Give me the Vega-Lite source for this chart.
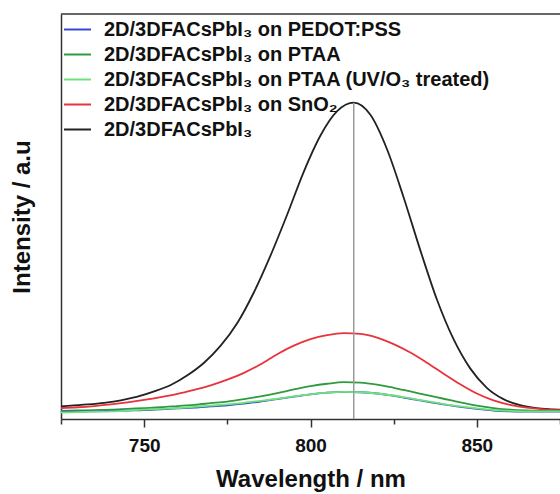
{
  "$schema": "https://vega.github.io/schema/vega-lite/v6.json",
  "width": 499,
  "height": 405,
  "autosize": {"type": "none"},
  "padding": {"left": 61, "top": 14, "right": 0, "bottom": 75},
  "background": "white",
  "config": {
    "font": "Liberation Sans",
    "view": {"stroke": null},
    "axis": {"labelFont": "Liberation Sans", "titleFont": "Liberation Sans", "domainColor": "#333", "tickColor": "#333", "labelColor": "#111", "titleColor": "#111", "domainWidth": 1.5, "tickWidth": 1.5, "grid": false}
  },
  "layer": [
    {
      "data": {"values": [
        {"wl": 725, "I": 0.031, "s": "2D/3DFACsPbI₃"},
        {"wl": 728, "I": 0.033, "s": "2D/3DFACsPbI₃"},
        {"wl": 733, "I": 0.036, "s": "2D/3DFACsPbI₃"},
        {"wl": 738, "I": 0.040, "s": "2D/3DFACsPbI₃"},
        {"wl": 743, "I": 0.046, "s": "2D/3DFACsPbI₃"},
        {"wl": 748, "I": 0.055, "s": "2D/3DFACsPbI₃"},
        {"wl": 753, "I": 0.068, "s": "2D/3DFACsPbI₃"},
        {"wl": 758, "I": 0.084, "s": "2D/3DFACsPbI₃"},
        {"wl": 763, "I": 0.108, "s": "2D/3DFACsPbI₃"},
        {"wl": 768, "I": 0.139, "s": "2D/3DFACsPbI₃"},
        {"wl": 773, "I": 0.181, "s": "2D/3DFACsPbI₃"},
        {"wl": 778, "I": 0.237, "s": "2D/3DFACsPbI₃"},
        {"wl": 783, "I": 0.313, "s": "2D/3DFACsPbI₃"},
        {"wl": 788, "I": 0.404, "s": "2D/3DFACsPbI₃"},
        {"wl": 793, "I": 0.505, "s": "2D/3DFACsPbI₃"},
        {"wl": 798, "I": 0.611, "s": "2D/3DFACsPbI₃"},
        {"wl": 803, "I": 0.700, "s": "2D/3DFACsPbI₃"},
        {"wl": 808, "I": 0.760, "s": "2D/3DFACsPbI₃"},
        {"wl": 813, "I": 0.781, "s": "2D/3DFACsPbI₃"},
        {"wl": 818, "I": 0.751, "s": "2D/3DFACsPbI₃"},
        {"wl": 823, "I": 0.666, "s": "2D/3DFACsPbI₃"},
        {"wl": 828, "I": 0.547, "s": "2D/3DFACsPbI₃"},
        {"wl": 833, "I": 0.417, "s": "2D/3DFACsPbI₃"},
        {"wl": 838, "I": 0.295, "s": "2D/3DFACsPbI₃"},
        {"wl": 843, "I": 0.197, "s": "2D/3DFACsPbI₃"},
        {"wl": 848, "I": 0.125, "s": "2D/3DFACsPbI₃"},
        {"wl": 853, "I": 0.077, "s": "2D/3DFACsPbI₃"},
        {"wl": 858, "I": 0.049, "s": "2D/3DFACsPbI₃"},
        {"wl": 863, "I": 0.034, "s": "2D/3DFACsPbI₃"},
        {"wl": 868, "I": 0.027, "s": "2D/3DFACsPbI₃"},
        {"wl": 873, "I": 0.024, "s": "2D/3DFACsPbI₃"},
        {"wl": 875, "I": 0.023, "s": "2D/3DFACsPbI₃"},

        {"wl": 725, "I": 0.027, "s": "2D/3DFACsPbI₃ on SnO₂"},
        {"wl": 730, "I": 0.029, "s": "2D/3DFACsPbI₃ on SnO₂"},
        {"wl": 735, "I": 0.032, "s": "2D/3DFACsPbI₃ on SnO₂"},
        {"wl": 740, "I": 0.036, "s": "2D/3DFACsPbI₃ on SnO₂"},
        {"wl": 745, "I": 0.041, "s": "2D/3DFACsPbI₃ on SnO₂"},
        {"wl": 750, "I": 0.047, "s": "2D/3DFACsPbI₃ on SnO₂"},
        {"wl": 755, "I": 0.054, "s": "2D/3DFACsPbI₃ on SnO₂"},
        {"wl": 760, "I": 0.062, "s": "2D/3DFACsPbI₃ on SnO₂"},
        {"wl": 765, "I": 0.072, "s": "2D/3DFACsPbI₃ on SnO₂"},
        {"wl": 770, "I": 0.083, "s": "2D/3DFACsPbI₃ on SnO₂"},
        {"wl": 775, "I": 0.097, "s": "2D/3DFACsPbI₃ on SnO₂"},
        {"wl": 780, "I": 0.114, "s": "2D/3DFACsPbI₃ on SnO₂"},
        {"wl": 785, "I": 0.135, "s": "2D/3DFACsPbI₃ on SnO₂"},
        {"wl": 790, "I": 0.160, "s": "2D/3DFACsPbI₃ on SnO₂"},
        {"wl": 795, "I": 0.181, "s": "2D/3DFACsPbI₃ on SnO₂"},
        {"wl": 800, "I": 0.197, "s": "2D/3DFACsPbI₃ on SnO₂"},
        {"wl": 805, "I": 0.207, "s": "2D/3DFACsPbI₃ on SnO₂"},
        {"wl": 810, "I": 0.212, "s": "2D/3DFACsPbI₃ on SnO₂"},
        {"wl": 815, "I": 0.210, "s": "2D/3DFACsPbI₃ on SnO₂"},
        {"wl": 820, "I": 0.201, "s": "2D/3DFACsPbI₃ on SnO₂"},
        {"wl": 825, "I": 0.185, "s": "2D/3DFACsPbI₃ on SnO₂"},
        {"wl": 830, "I": 0.164, "s": "2D/3DFACsPbI₃ on SnO₂"},
        {"wl": 835, "I": 0.139, "s": "2D/3DFACsPbI₃ on SnO₂"},
        {"wl": 840, "I": 0.112, "s": "2D/3DFACsPbI₃ on SnO₂"},
        {"wl": 845, "I": 0.086, "s": "2D/3DFACsPbI₃ on SnO₂"},
        {"wl": 850, "I": 0.063, "s": "2D/3DFACsPbI₃ on SnO₂"},
        {"wl": 855, "I": 0.046, "s": "2D/3DFACsPbI₃ on SnO₂"},
        {"wl": 860, "I": 0.035, "s": "2D/3DFACsPbI₃ on SnO₂"},
        {"wl": 865, "I": 0.028, "s": "2D/3DFACsPbI₃ on SnO₂"},
        {"wl": 870, "I": 0.024, "s": "2D/3DFACsPbI₃ on SnO₂"},
        {"wl": 875, "I": 0.022, "s": "2D/3DFACsPbI₃ on SnO₂"},

        {"wl": 725, "I": 0.020, "s": "2D/3DFACsPbI₃ on PTAA"},
        {"wl": 730, "I": 0.021, "s": "2D/3DFACsPbI₃ on PTAA"},
        {"wl": 735, "I": 0.022, "s": "2D/3DFACsPbI₃ on PTAA"},
        {"wl": 740, "I": 0.023, "s": "2D/3DFACsPbI₃ on PTAA"},
        {"wl": 745, "I": 0.025, "s": "2D/3DFACsPbI₃ on PTAA"},
        {"wl": 750, "I": 0.027, "s": "2D/3DFACsPbI₃ on PTAA"},
        {"wl": 755, "I": 0.029, "s": "2D/3DFACsPbI₃ on PTAA"},
        {"wl": 760, "I": 0.032, "s": "2D/3DFACsPbI₃ on PTAA"},
        {"wl": 765, "I": 0.035, "s": "2D/3DFACsPbI₃ on PTAA"},
        {"wl": 770, "I": 0.039, "s": "2D/3DFACsPbI₃ on PTAA"},
        {"wl": 775, "I": 0.043, "s": "2D/3DFACsPbI₃ on PTAA"},
        {"wl": 780, "I": 0.049, "s": "2D/3DFACsPbI₃ on PTAA"},
        {"wl": 785, "I": 0.056, "s": "2D/3DFACsPbI₃ on PTAA"},
        {"wl": 790, "I": 0.064, "s": "2D/3DFACsPbI₃ on PTAA"},
        {"wl": 795, "I": 0.073, "s": "2D/3DFACsPbI₃ on PTAA"},
        {"wl": 800, "I": 0.081, "s": "2D/3DFACsPbI₃ on PTAA"},
        {"wl": 805, "I": 0.087, "s": "2D/3DFACsPbI₃ on PTAA"},
        {"wl": 810, "I": 0.091, "s": "2D/3DFACsPbI₃ on PTAA"},
        {"wl": 815, "I": 0.090, "s": "2D/3DFACsPbI₃ on PTAA"},
        {"wl": 820, "I": 0.085, "s": "2D/3DFACsPbI₃ on PTAA"},
        {"wl": 825, "I": 0.077, "s": "2D/3DFACsPbI₃ on PTAA"},
        {"wl": 830, "I": 0.068, "s": "2D/3DFACsPbI₃ on PTAA"},
        {"wl": 835, "I": 0.059, "s": "2D/3DFACsPbI₃ on PTAA"},
        {"wl": 840, "I": 0.050, "s": "2D/3DFACsPbI₃ on PTAA"},
        {"wl": 845, "I": 0.041, "s": "2D/3DFACsPbI₃ on PTAA"},
        {"wl": 850, "I": 0.033, "s": "2D/3DFACsPbI₃ on PTAA"},
        {"wl": 855, "I": 0.027, "s": "2D/3DFACsPbI₃ on PTAA"},
        {"wl": 860, "I": 0.023, "s": "2D/3DFACsPbI₃ on PTAA"},
        {"wl": 865, "I": 0.021, "s": "2D/3DFACsPbI₃ on PTAA"},
        {"wl": 870, "I": 0.020, "s": "2D/3DFACsPbI₃ on PTAA"},
        {"wl": 875, "I": 0.020, "s": "2D/3DFACsPbI₃ on PTAA"},

        {"wl": 725, "I": 0.018, "s": "2D/3DFACsPbI₃ on PEDOT:PSS"},
        {"wl": 730, "I": 0.018, "s": "2D/3DFACsPbI₃ on PEDOT:PSS"},
        {"wl": 735, "I": 0.019, "s": "2D/3DFACsPbI₃ on PEDOT:PSS"},
        {"wl": 740, "I": 0.020, "s": "2D/3DFACsPbI₃ on PEDOT:PSS"},
        {"wl": 745, "I": 0.021, "s": "2D/3DFACsPbI₃ on PEDOT:PSS"},
        {"wl": 750, "I": 0.022, "s": "2D/3DFACsPbI₃ on PEDOT:PSS"},
        {"wl": 755, "I": 0.024, "s": "2D/3DFACsPbI₃ on PEDOT:PSS"},
        {"wl": 760, "I": 0.026, "s": "2D/3DFACsPbI₃ on PEDOT:PSS"},
        {"wl": 765, "I": 0.028, "s": "2D/3DFACsPbI₃ on PEDOT:PSS"},
        {"wl": 770, "I": 0.031, "s": "2D/3DFACsPbI₃ on PEDOT:PSS"},
        {"wl": 775, "I": 0.034, "s": "2D/3DFACsPbI₃ on PEDOT:PSS"},
        {"wl": 780, "I": 0.038, "s": "2D/3DFACsPbI₃ on PEDOT:PSS"},
        {"wl": 785, "I": 0.043, "s": "2D/3DFACsPbI₃ on PEDOT:PSS"},
        {"wl": 790, "I": 0.049, "s": "2D/3DFACsPbI₃ on PEDOT:PSS"},
        {"wl": 795, "I": 0.055, "s": "2D/3DFACsPbI₃ on PEDOT:PSS"},
        {"wl": 800, "I": 0.061, "s": "2D/3DFACsPbI₃ on PEDOT:PSS"},
        {"wl": 805, "I": 0.065, "s": "2D/3DFACsPbI₃ on PEDOT:PSS"},
        {"wl": 810, "I": 0.067, "s": "2D/3DFACsPbI₃ on PEDOT:PSS"},
        {"wl": 815, "I": 0.066, "s": "2D/3DFACsPbI₃ on PEDOT:PSS"},
        {"wl": 820, "I": 0.063, "s": "2D/3DFACsPbI₃ on PEDOT:PSS"},
        {"wl": 825, "I": 0.057, "s": "2D/3DFACsPbI₃ on PEDOT:PSS"},
        {"wl": 830, "I": 0.050, "s": "2D/3DFACsPbI₃ on PEDOT:PSS"},
        {"wl": 835, "I": 0.043, "s": "2D/3DFACsPbI₃ on PEDOT:PSS"},
        {"wl": 840, "I": 0.036, "s": "2D/3DFACsPbI₃ on PEDOT:PSS"},
        {"wl": 845, "I": 0.030, "s": "2D/3DFACsPbI₃ on PEDOT:PSS"},
        {"wl": 850, "I": 0.025, "s": "2D/3DFACsPbI₃ on PEDOT:PSS"},
        {"wl": 855, "I": 0.021, "s": "2D/3DFACsPbI₃ on PEDOT:PSS"},
        {"wl": 860, "I": 0.019, "s": "2D/3DFACsPbI₃ on PEDOT:PSS"},
        {"wl": 865, "I": 0.018, "s": "2D/3DFACsPbI₃ on PEDOT:PSS"},
        {"wl": 870, "I": 0.018, "s": "2D/3DFACsPbI₃ on PEDOT:PSS"},
        {"wl": 875, "I": 0.018, "s": "2D/3DFACsPbI₃ on PEDOT:PSS"},

        {"wl": 725, "I": 0.016, "s": "2D/3DFACsPbI₃ on PTAA (UV/O₃ treated)"},
        {"wl": 730, "I": 0.017, "s": "2D/3DFACsPbI₃ on PTAA (UV/O₃ treated)"},
        {"wl": 735, "I": 0.018, "s": "2D/3DFACsPbI₃ on PTAA (UV/O₃ treated)"},
        {"wl": 740, "I": 0.019, "s": "2D/3DFACsPbI₃ on PTAA (UV/O₃ treated)"},
        {"wl": 745, "I": 0.021, "s": "2D/3DFACsPbI₃ on PTAA (UV/O₃ treated)"},
        {"wl": 750, "I": 0.023, "s": "2D/3DFACsPbI₃ on PTAA (UV/O₃ treated)"},
        {"wl": 755, "I": 0.025, "s": "2D/3DFACsPbI₃ on PTAA (UV/O₃ treated)"},
        {"wl": 760, "I": 0.027, "s": "2D/3DFACsPbI₃ on PTAA (UV/O₃ treated)"},
        {"wl": 765, "I": 0.030, "s": "2D/3DFACsPbI₃ on PTAA (UV/O₃ treated)"},
        {"wl": 770, "I": 0.033, "s": "2D/3DFACsPbI₃ on PTAA (UV/O₃ treated)"},
        {"wl": 775, "I": 0.036, "s": "2D/3DFACsPbI₃ on PTAA (UV/O₃ treated)"},
        {"wl": 780, "I": 0.040, "s": "2D/3DFACsPbI₃ on PTAA (UV/O₃ treated)"},
        {"wl": 785, "I": 0.045, "s": "2D/3DFACsPbI₃ on PTAA (UV/O₃ treated)"},
        {"wl": 790, "I": 0.050, "s": "2D/3DFACsPbI₃ on PTAA (UV/O₃ treated)"},
        {"wl": 795, "I": 0.056, "s": "2D/3DFACsPbI₃ on PTAA (UV/O₃ treated)"},
        {"wl": 800, "I": 0.061, "s": "2D/3DFACsPbI₃ on PTAA (UV/O₃ treated)"},
        {"wl": 805, "I": 0.065, "s": "2D/3DFACsPbI₃ on PTAA (UV/O₃ treated)"},
        {"wl": 810, "I": 0.067, "s": "2D/3DFACsPbI₃ on PTAA (UV/O₃ treated)"},
        {"wl": 815, "I": 0.066, "s": "2D/3DFACsPbI₃ on PTAA (UV/O₃ treated)"},
        {"wl": 820, "I": 0.063, "s": "2D/3DFACsPbI₃ on PTAA (UV/O₃ treated)"},
        {"wl": 825, "I": 0.058, "s": "2D/3DFACsPbI₃ on PTAA (UV/O₃ treated)"},
        {"wl": 830, "I": 0.051, "s": "2D/3DFACsPbI₃ on PTAA (UV/O₃ treated)"},
        {"wl": 835, "I": 0.044, "s": "2D/3DFACsPbI₃ on PTAA (UV/O₃ treated)"},
        {"wl": 840, "I": 0.037, "s": "2D/3DFACsPbI₃ on PTAA (UV/O₃ treated)"},
        {"wl": 845, "I": 0.031, "s": "2D/3DFACsPbI₃ on PTAA (UV/O₃ treated)"},
        {"wl": 850, "I": 0.026, "s": "2D/3DFACsPbI₃ on PTAA (UV/O₃ treated)"},
        {"wl": 855, "I": 0.022, "s": "2D/3DFACsPbI₃ on PTAA (UV/O₃ treated)"},
        {"wl": 860, "I": 0.020, "s": "2D/3DFACsPbI₃ on PTAA (UV/O₃ treated)"},
        {"wl": 865, "I": 0.019, "s": "2D/3DFACsPbI₃ on PTAA (UV/O₃ treated)"},
        {"wl": 870, "I": 0.019, "s": "2D/3DFACsPbI₃ on PTAA (UV/O₃ treated)"},
        {"wl": 875, "I": 0.019, "s": "2D/3DFACsPbI₃ on PTAA (UV/O₃ treated)"}
      ]},
      "mark": {"type": "line", "strokeWidth": 1.8, "interpolate": "monotone"},
      "encoding": {
        "x": {
          "field": "wl", "type": "quantitative",
          "scale": {"domain": [725, 875], "nice": false},
          "axis": {
            "title": "Wavelength / nm",
            "titleFontSize": 24, "titleFontWeight": "bold", "titlePadding": 12,
            "values": [725, 750, 775, 800, 825, 850, 875],
            "labelExpr": "datum.value % 50 === 0 ? datum.label : ''",
            "labelFontSize": 19, "labelFontWeight": "bold", "labelPadding": 9,
            "tickSize": {"condition": {"test": "datum.value % 50 === 0", "value": 8}, "value": 5}
          }
        },
        "y": {
          "field": "I", "type": "quantitative",
          "scale": {"domain": [0, 1], "nice": false},
          "axis": {
            "title": "Intensity / a.u",
            "titleFontSize": 24, "titleFontWeight": "bold", "titlePadding": 27,
            "labels": false, "ticks": false
          }
        },
        "color": {
          "field": "s", "type": "nominal",
          "scale": {
            "domain": ["2D/3DFACsPbI₃ on PEDOT:PSS", "2D/3DFACsPbI₃ on PTAA", "2D/3DFACsPbI₃ on PTAA (UV/O₃ treated)", "2D/3DFACsPbI₃ on SnO₂", "2D/3DFACsPbI₃"],
            "range": ["#3646d6", "#2f9a3e", "#6fe27a", "#e8323c", "#222222"]
          },
          "legend": {
            "title": null, "orient": "none", "legendX": 2, "legendY": 1,
            "symbolType": "stroke", "symbolSize": 729, "symbolStrokeWidth": 2,
            "labelFontSize": 20, "labelFontWeight": "bold", "labelColor": "#111",
            "labelOffset": 12, "rowPadding": -1.5, "padding": 0, "labelLimit": 500
          }
        },
        "detail": {"field": "s"}
      }
    },
    {
      "data": {"values": [{"wl": 813, "lo": 0, "hi": 0.781}]},
      "mark": {"type": "rule", "color": "#9a9a9a", "strokeWidth": 1.5},
      "encoding": {
        "x": {"field": "wl", "type": "quantitative"},
        "y": {"field": "lo", "type": "quantitative"},
        "y2": {"field": "hi"}
      }
    },
    {
      "data": {"values": [{}]},
      "mark": {"type": "rule", "color": "#333", "strokeWidth": 1.5},
      "encoding": {"y": {"datum": 1, "type": "quantitative"}}
    }
  ]
}
